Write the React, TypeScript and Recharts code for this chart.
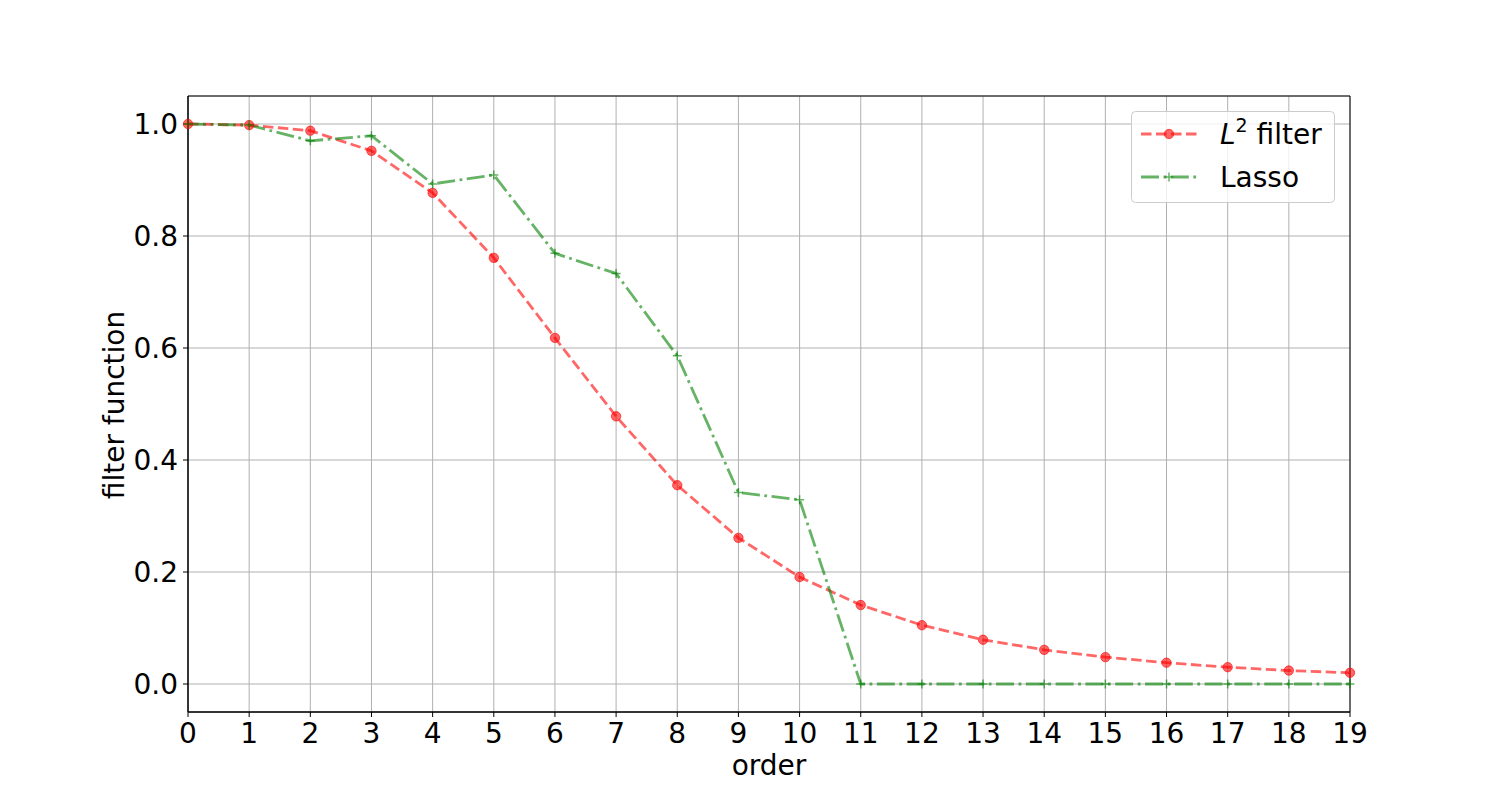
import { CartesianGrid, Line, LineChart, ReferenceArea, XAxis, YAxis } from 'recharts'

const orders = [0, 1, 2, 3, 4, 5, 6, 7, 8, 9, 10, 11, 12, 13, 14, 15, 16, 17, 18, 19]
const l2Filter = [1.0, 0.998, 0.988, 0.952, 0.877, 0.761, 0.618, 0.478, 0.355, 0.261, 0.191, 0.141, 0.105, 0.079, 0.061, 0.048, 0.038, 0.03, 0.024, 0.02]
const lasso = [1.0, 0.998, 0.97, 0.979, 0.893, 0.909, 0.769, 0.733, 0.586, 0.342, 0.329, 0, 0, 0, 0, 0, 0, 0, 0, 0]
const yTicks = [0, 0.2, 0.4, 0.6, 0.8, 1.0]

const data = orders.map((order, i) => ({ order, l2: l2Filter[i], lasso: lasso[i] }))

const FONT = 'DejaVu Sans, sans-serif'
const RED = '#ff0000'
const GREEN = '#008000'
const RED_DASH = '10.5 4.5'
const GREEN_DASH = '18 4.5 2.8 4.5'

function CircleDot(props: any) {
  const { cx, cy } = props
  if (cx == null || cy == null) return null
  return <circle cx={cx} cy={cy} r={4.7} fill={RED} fillOpacity={0.6} stroke={RED} strokeOpacity={0.6} strokeWidth={1} />
}

function PlusDot(props: any) {
  const { cx, cy } = props
  if (cx == null || cy == null) return null
  return (
    <path d={`M${cx - 4.5},${cy}H${cx + 4.5}M${cx},${cy - 4.5}V${cy + 4.5}`} stroke={GREEN} strokeOpacity={0.6} strokeWidth={1.5} fill="none" />
  )
}

// legend box, drawn over the plot like matplotlib's upper-right legend
function LegendBox() {
  return (
    <div style={{ position: 'absolute', left: 1131, top: 111, width: 204, height: 92 }}>
      <svg width={204} height={92}>
        <rect x={0.5} y={0.5} width={203} height={91} rx={4} fill="#fff" fillOpacity={0.8} stroke="#cccccc" />
        <line x1={10} y1={23} x2={66} y2={23} stroke={RED} strokeOpacity={0.6} strokeWidth={2.8} strokeDasharray={RED_DASH} />
        <circle cx={38} cy={23} r={4.7} fill={RED} fillOpacity={0.6} stroke={RED} strokeOpacity={0.6} />
        <line x1={10} y1={66} x2={66} y2={66} stroke={GREEN} strokeOpacity={0.6} strokeWidth={2.8} strokeDasharray={GREEN_DASH} />
        <path d="M33.5,66H42.5M38,61.5V70.5" stroke={GREEN} strokeOpacity={0.6} strokeWidth={1.5} />
        <text x={89} y={33} fontFamily={FONT} fontSize={28} fill="#000">
          <tspan fontStyle="italic">L</tspan>
          <tspan fontSize={19} dy={-12}>2</tspan>
          <tspan dy={12}> filter</tspan>
        </text>
        <text x={89} y={76} fontFamily={FONT} fontSize={28} fill="#000">
          Lasso
        </text>
      </svg>
    </div>
  )
}

export default function App() {
  return (
    <div style={{ position: 'absolute', left: 0, top: 0, width: 1500, height: 800, background: '#fff' }}>
      <LineChart width={1500} height={800} data={data} margin={{ top: 96, right: 150, left: 68, bottom: 28 }}>
        <CartesianGrid stroke="#b0b0b0" strokeWidth={1} vertical horizontal />
        <XAxis
          dataKey="order"
          type="number"
          domain={[0, 19]}
          ticks={orders}
          interval={0}
          height={60}
          tickSize={5}
          tickMargin={6}
          axisLine={{ stroke: '#000', strokeWidth: 1 }}
          tickLine={{ stroke: '#000' }}
          tick={{ fill: '#000', fontSize: 28, fontFamily: FONT }}
          label={{
            content: () => (
              <text x={769} y={775} textAnchor="middle" fontSize={28} fontFamily={FONT} fill="#000">
                order
              </text>
            ),
          }}
        />
        <YAxis
          type="number"
          domain={[-0.05, 1.05]}
          ticks={yTicks}
          width={120}
          tickSize={5}
          tickMargin={5}
          tickFormatter={(v: number) => v.toFixed(1)}
          axisLine={{ stroke: '#000', strokeWidth: 1 }}
          tickLine={{ stroke: '#000' }}
          tick={{ fill: '#000', fontSize: 28, fontFamily: FONT }}
          label={{
            content: () => (
              <text x={124} y={405} transform="rotate(-90 124 405)" textAnchor="middle" fontSize={28} fontFamily={FONT} fill="#000">
                filter function
              </text>
            ),
          }}
        />
        <ReferenceArea x1={0} x2={19} y1={-0.05} y2={1.05} fill="none" stroke="#000" strokeWidth={1} ifOverflow="visible" />
        <Line
          dataKey="l2"
          name="L2 filter"
          stroke={RED}
          strokeOpacity={0.6}
          strokeWidth={2.8}
          strokeDasharray={RED_DASH}
          dot={<CircleDot />}
          activeDot={false}
          isAnimationActive={false}
        />
        <Line
          dataKey="lasso"
          name="Lasso"
          stroke={GREEN}
          strokeOpacity={0.6}
          strokeWidth={2.8}
          strokeDasharray={GREEN_DASH}
          dot={<PlusDot />}
          activeDot={false}
          isAnimationActive={false}
        />
      </LineChart>
      <LegendBox />
    </div>
  )
}
